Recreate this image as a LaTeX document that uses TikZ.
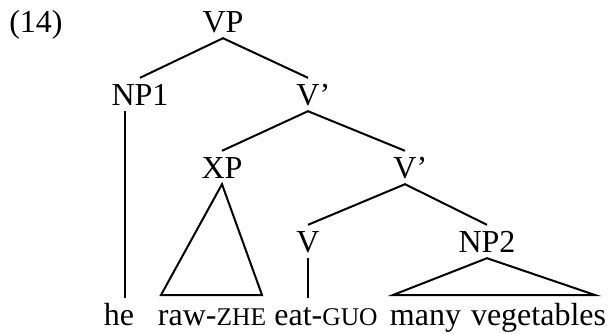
\documentclass[tikz,border=0pt]{standalone}
\usepackage{fontspec}
\setmainfont{Liberation Serif}
\newfontfamily\smcpfont{Liberation Serif}
\newcommand{\glossmark}[1]{{\smcpfont\fontsize{25.5}{30}\selectfont #1}}
\usetikzlibrary{positioning}
\tikzset{font=\fontsize{32}{38}\selectfont}
\tikzset{cat/.style={inner xsep=0pt,inner ysep=6pt,text height=21pt,text depth=0pt,anchor=base}}
\tikzset{branch/.style={line width=2pt}}

\begin{document}
\begin{tikzpicture}[x=1pt,y=-1pt]
  \useasboundingbox (0,0) rectangle (608,333);

  \node[cat] (ex) at (36,32) {(14)};
  \node[cat] (vp) at (223,32) {VP};
  \node[cat] (np1) at (140,105) {NP1};
  \node[cat] (vbar1) at (308,105) {V\rlap{'}};
  \node[cat] (xp) at (222,178) {XP};
  \node[cat] (vbar2) at (405,178) {V\rlap{'}};
  \node[cat] (v) at (308,252) {V};
  \node[cat] (np2) at (487,252) {NP2};

  \node[cat] (he) at (119,325) {he};
  \node[cat] (raw) at (212,325) {raw-\glossmark{ZHE}};
  \node[cat] (eat) at (326,325) {eat-\glossmark{GUO}};
  \node[cat] (veg) at (498,325) {many\hspace{2pt} vegetables};

  \coordinate (xl) at (161,295);
  \coordinate (xr) at (262,295);
  \coordinate (nl) at (393,295);
  \coordinate (nr) at (595,295);

  \draw[branch] (np1.north) -- (vp.south) -- (vbar1.north);
  \draw[branch] (xp.north) -- (vbar1.south) -- (vbar2.north);
  \draw[branch] (v.north) -- (vbar2.south) -- (np2.north);
  \draw[branch] ([xshift=6pt]he.north) -- ([xshift=6pt]he.north |- np1.south);
  \draw[branch] (v.south) -- (v.south |- eat.north);
  \draw[branch] (xp.south) -- (xl) -- (xr) -- cycle;
  \draw[branch] (np2.south) -- (nl) -- (nr) -- cycle;
\end{tikzpicture}
\end{document}
